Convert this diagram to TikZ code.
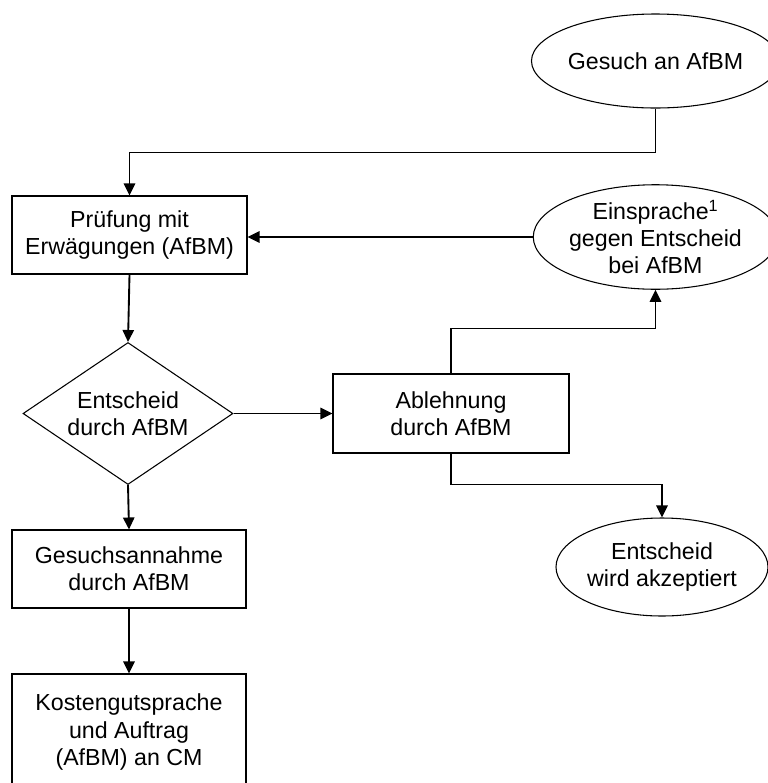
\documentclass[tikz,border=0pt]{standalone}
\usepackage{fontspec}
\setmainfont{Liberation Sans}
\usetikzlibrary{shapes.geometric,arrows.meta}
\begin{document}
\begin{tikzpicture}[x=0.75pt,y=-0.75pt,
  every node/.style={font=\fontsize{17.4pt}{20.3pt}\selectfont, align=center, inner sep=0pt},
  box/.style={draw, line width=0.8pt, rectangle},
  oval/.style={draw, line width=0.8pt, ellipse},
  decision/.style={draw, line width=0.8pt, diamond, aspect=1.48},
  conn/.style={line width=1.4pt, -{Triangle[length=9pt,width=8.5pt]}}]
\useasboundingbox (0,0) rectangle (768,783);
\node[oval, minimum width=168pt, minimum height=70.5pt] (gesuch) at (655.5,61) {Gesuch an AfBM};
\node[box, minimum width=176.25pt, minimum height=58.5pt] (pruef) at (129.5,235) {Prüfung mit\\Erwägungen (AfBM)};
\node[oval, minimum width=167pt, minimum height=73.5pt] (ein) at (655.5,237) {Einsprache\textsuperscript{1}\\gegen Entscheid\\bei AfBM};
\node[decision, minimum width=157.5pt, minimum height=106.5pt] (dia) at (128,413.5) {Entscheid\\durch AfBM};
\node[box, minimum width=177pt, minimum height=59.25pt] (abl) at (451,413.5) {Ablehnung\\durch AfBM};
\node[oval, minimum width=159pt, minimum height=73.5pt] (akz) at (662,567) {Entscheid\\wird akzeptiert};
\node[box, minimum width=175.5pt, minimum height=58.5pt] (annahme) at (129,569) {Gesuchsannahme\\durch AfBM};
\node[box, minimum width=175.5pt, minimum height=87pt] (kosten) at (129,732) {Kostengutsprache\\und Auftrag\\(AfBM) an CM};
\draw[conn] (gesuch.south) -- ++(0,44) -| (pruef.north);
\draw[conn] (ein.west) -- (ein.west -| pruef.east);
\draw[conn] (pruef.south) -- (dia.north);
\draw[conn] (dia.east) -- (abl.west);
\draw[conn] (abl.north) -- ++(0,-45) -| (ein.south);
\draw[conn] (abl.south) -- ++(0,31) -| (akz.north);
\draw[conn] (dia.south) -- (annahme.north);
\draw[conn] (annahme.south) -- (kosten.north);
\end{tikzpicture}
\end{document}
